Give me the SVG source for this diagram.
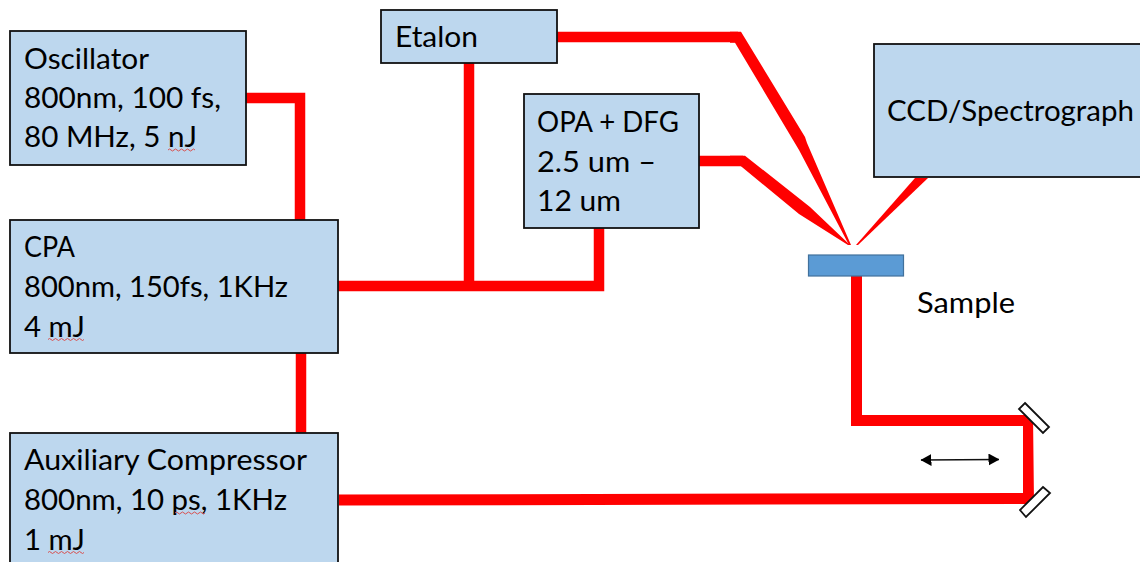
<svg xmlns="http://www.w3.org/2000/svg" width="1140" height="562" viewBox="0 0 1140 562">
<style>
.box{fill:#bdd7ee;stroke:#111111;stroke-width:1.800}
.beam{fill:none;stroke:#ff0000;stroke-width:10.500;stroke-linejoin:miter}
.taper{fill:#ff0000;stroke:none}
.mirror{fill:#ffffff;stroke:#111111;stroke-width:1.800}
.t{font-family:Lato,"Open Sans","Liberation Sans",sans-serif;font-size:28px;fill:#000000}
.sq{fill:none;stroke:#d9504f;stroke-width:1}
</style>
<defs>
<marker id="ah" viewBox="0 0 11 12" refX="10.500" refY="6" markerWidth="11" markerHeight="12" markerUnits="userSpaceOnUse" orient="auto-start-reverse"><path d="M0 0L11 6L0 12Z" fill="#000000"/></marker>
</defs>
<rect width="1140" height="562" fill="#ffffff"/>
<g id="connectors">
<path class="beam" d="M246 98H300V220"/>
<path class="beam" d="M301 353V433"/>
<path class="beam" d="M338 286H599V228"/>
<path class="beam" d="M469 63V286"/>
<path class="beam" d="M557 37H738"/>
<path class="beam" d="M699 161H743"/>
<polygon class="taper" points="738,31.700 741,31.700 805,137 807,143 851,245 849,245 799,150 735,42.700 730,42.700 730,31.700"/>
<polygon class="taper" points="730,155.700 745,155.700 810,207 850,245 848,245 799,214 740.700,166 730,166"/>
<polygon class="taper" points="915,178 928,178 858,245 856,245"/>
<path class="taper" d="M851 276H862V415H1033L1034 503L1028 504L339 505.500V494.500L1023 493L1023 426H851Z"/>
<line x1="921" y1="460" x2="999" y2="459.500" stroke="#111111" stroke-width="1.300" marker-start="url(#ah)" marker-end="url(#ah)"/>
</g>
<g id="oscillator">
<rect class="box" x="10" y="31" width="236" height="134"/>
<text class="t" x="24" y="69" textLength="125" lengthAdjust="spacingAndGlyphs">Oscillator</text>
<text class="t" x="24" y="108" textLength="197" lengthAdjust="spacingAndGlyphs">800nm, 100 fs,</text>
<text class="t" x="24" y="147" textLength="173" lengthAdjust="spacingAndGlyphs">80 MHz, 5 nJ</text>
<path class="sq" d="M168 150q1.500 -2 3 0t3 0t3 0t3 0t3 0t3 0t3 0t3 0t3 0"/>
</g>
<g id="cpa">
<rect class="box" x="10" y="220" width="328" height="133"/>
<text class="t" x="24" y="257" textLength="51" lengthAdjust="spacingAndGlyphs">CPA</text>
<text class="t" x="24" y="297" textLength="264" lengthAdjust="spacingAndGlyphs">800nm, 150fs, 1KHz</text>
<text class="t" x="24" y="337" textLength="61" lengthAdjust="spacingAndGlyphs">4 mJ</text>
<path class="sq" d="M48 339.500q1.500 -2 3 0t3 0t3 0t3 0t3 0t3 0t3 0t3 0t3 0t3 0t3 0t3 0"/>
</g>
<g id="auxiliary-compressor">
<rect class="box" x="10" y="433" width="328" height="140"/>
<text class="t" x="24" y="470" textLength="283" lengthAdjust="spacingAndGlyphs">Auxiliary Compressor</text>
<text class="t" x="24" y="510" textLength="263" lengthAdjust="spacingAndGlyphs">800nm, 10 ps, 1KHz</text>
<text class="t" x="24" y="550" textLength="61" lengthAdjust="spacingAndGlyphs">1 mJ</text>
<path class="sq" d="M175 513q1.500 -2 3 0t3 0t3 0t3 0t3 0t3 0t3 0t3 0t3 0t3 0"/>
<path class="sq" d="M48 552.500q1.500 -2 3 0t3 0t3 0t3 0t3 0t3 0t3 0t3 0t3 0t3 0t3 0t3 0"/>
</g>
<g id="etalon">
<rect class="box" x="381" y="10" width="176" height="53"/>
<text class="t" x="395" y="47" textLength="83" lengthAdjust="spacingAndGlyphs">Etalon</text>
</g>
<g id="opa-dfg">
<rect class="box" x="524" y="94" width="175" height="134"/>
<text class="t" x="537" y="132" textLength="142" lengthAdjust="spacingAndGlyphs">OPA + DFG</text>
<text class="t" x="537" y="172" textLength="119" lengthAdjust="spacingAndGlyphs">2.5 um –</text>
<text class="t" x="537" y="211" textLength="84" lengthAdjust="spacingAndGlyphs">12 um</text>
</g>
<g id="ccd-spectrograph">
<rect class="box" x="874" y="44" width="280" height="133"/>
<text class="t" x="887" y="121" textLength="247" lengthAdjust="spacingAndGlyphs">CCD/Spectrograph</text>
</g>
<g id="sample">
<rect x="808.500" y="255" width="95" height="21" fill="#5b9bd5" stroke="#41719c" stroke-width="1.200"/>
<text class="t" x="917" y="313" textLength="98" lengthAdjust="spacingAndGlyphs">Sample</text>
</g>
<g id="mirror-top"><polygon class="mirror" points="1025,403 1049,427 1043,433 1019,409"/></g>
<g id="mirror-bottom"><polygon class="mirror" points="1043,487 1050,493 1026,517 1020,510"/></g>
</svg>
